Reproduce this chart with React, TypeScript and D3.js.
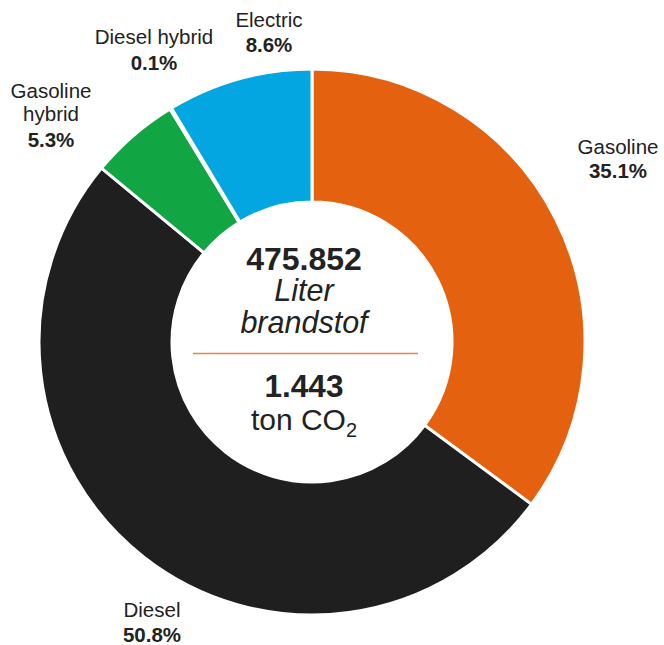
import React from "react";
import * as d3 from "d3";

const categories = ["Gasoline", "Diesel", "Gasoline hybrid", "Diesel hybrid", "Electric"];
const shares = [35.1, 50.8, 5.3, 0.1, 8.6];
const colors = ["#E4620F", "#1F1F1F", "#11A544", "#7A7A7A", "#03A6E1"];
const labelLines = [["Gasoline"], ["Diesel"], ["Gasoline", "hybrid"], ["Diesel hybrid"], ["Electric"]];
const totalFuel = "475.852";
const totalCO2 = "1.443";

// label layout (center x, first baseline y, percent baseline y)
const labelPos = [
  { x: 618, y: 154, py: 178 },
  { x: 152, y: 617, py: 642 },
  { x: 51, y: 98, py: 147 },
  { x: 154, y: 44, py: 70 },
  { x: 269, y: 27, py: 52 },
];

const W = 664;
const H = 645;
const cx = 312;
const cy = 342;
const outerR = 273;
const innerR = 140;
const font = "'Liberation Sans', Arial, Helvetica, sans-serif";
const textColor = "#222222";

export default function App() {
  const data = categories.map((c, i) => ({ c, v: shares[i], i }));
  const pie = d3.pie<any>().sort(null).value((d) => d.v).startAngle(0).endAngle(2 * Math.PI);
  const arcs = pie(data);
  const arc = d3.arc<any>().innerRadius(innerR).outerRadius(outerR);
  const fmt = (v: number) => v.toFixed(1) + "%";

  return (
    <svg
      width={W}
      height={H}
      style={{ position: "absolute", left: 0, top: 0, background: "#fff" }}
      fontFamily={font}
    >
      <g transform={`translate(${cx},${cy})`}>
        {arcs.map((a, i) => (
          <path key={i} d={arc(a) as string} fill={colors[i]} stroke="#fff" strokeWidth={3} strokeLinejoin="miter" />
        ))}
      </g>
      {labelPos.map((p, i) => {
        const lines = labelLines[i];
        return (
          <g key={i}>
            {lines.map((t, k) => (
              <text key={k} x={p.x} y={p.y + k * 23} textAnchor="middle" fontSize={20.5} fill={textColor}>
                {t}
              </text>
            ))}
            <text x={p.x} y={p.py} textAnchor="middle" fontSize={20.5} fontWeight="bold" fill={textColor}>
              {fmt(shares[i])}
            </text>
          </g>
        );
      })}
      <g fill={textColor} textAnchor="middle">
        <text x={304} y={270} fontSize={32} fontWeight="bold">{totalFuel}</text>
        <text x={304} y={301} fontSize={30.5} fontStyle="italic">Liter</text>
        <text x={304} y={333} fontSize={30.5} fontStyle="italic">brandstof</text>
        <line x1={193} x2={418} y1={353.5} y2={353.5} stroke="#E8824A" strokeWidth={1.5} />
        <text x={304} y={397} fontSize={31.5} fontWeight="bold">{totalCO2}</text>
        <text x={304} y={430} fontSize={30}>
          ton CO<tspan fontSize={20} dy={7}>2</tspan>
        </text>
      </g>
    </svg>
  );
}
